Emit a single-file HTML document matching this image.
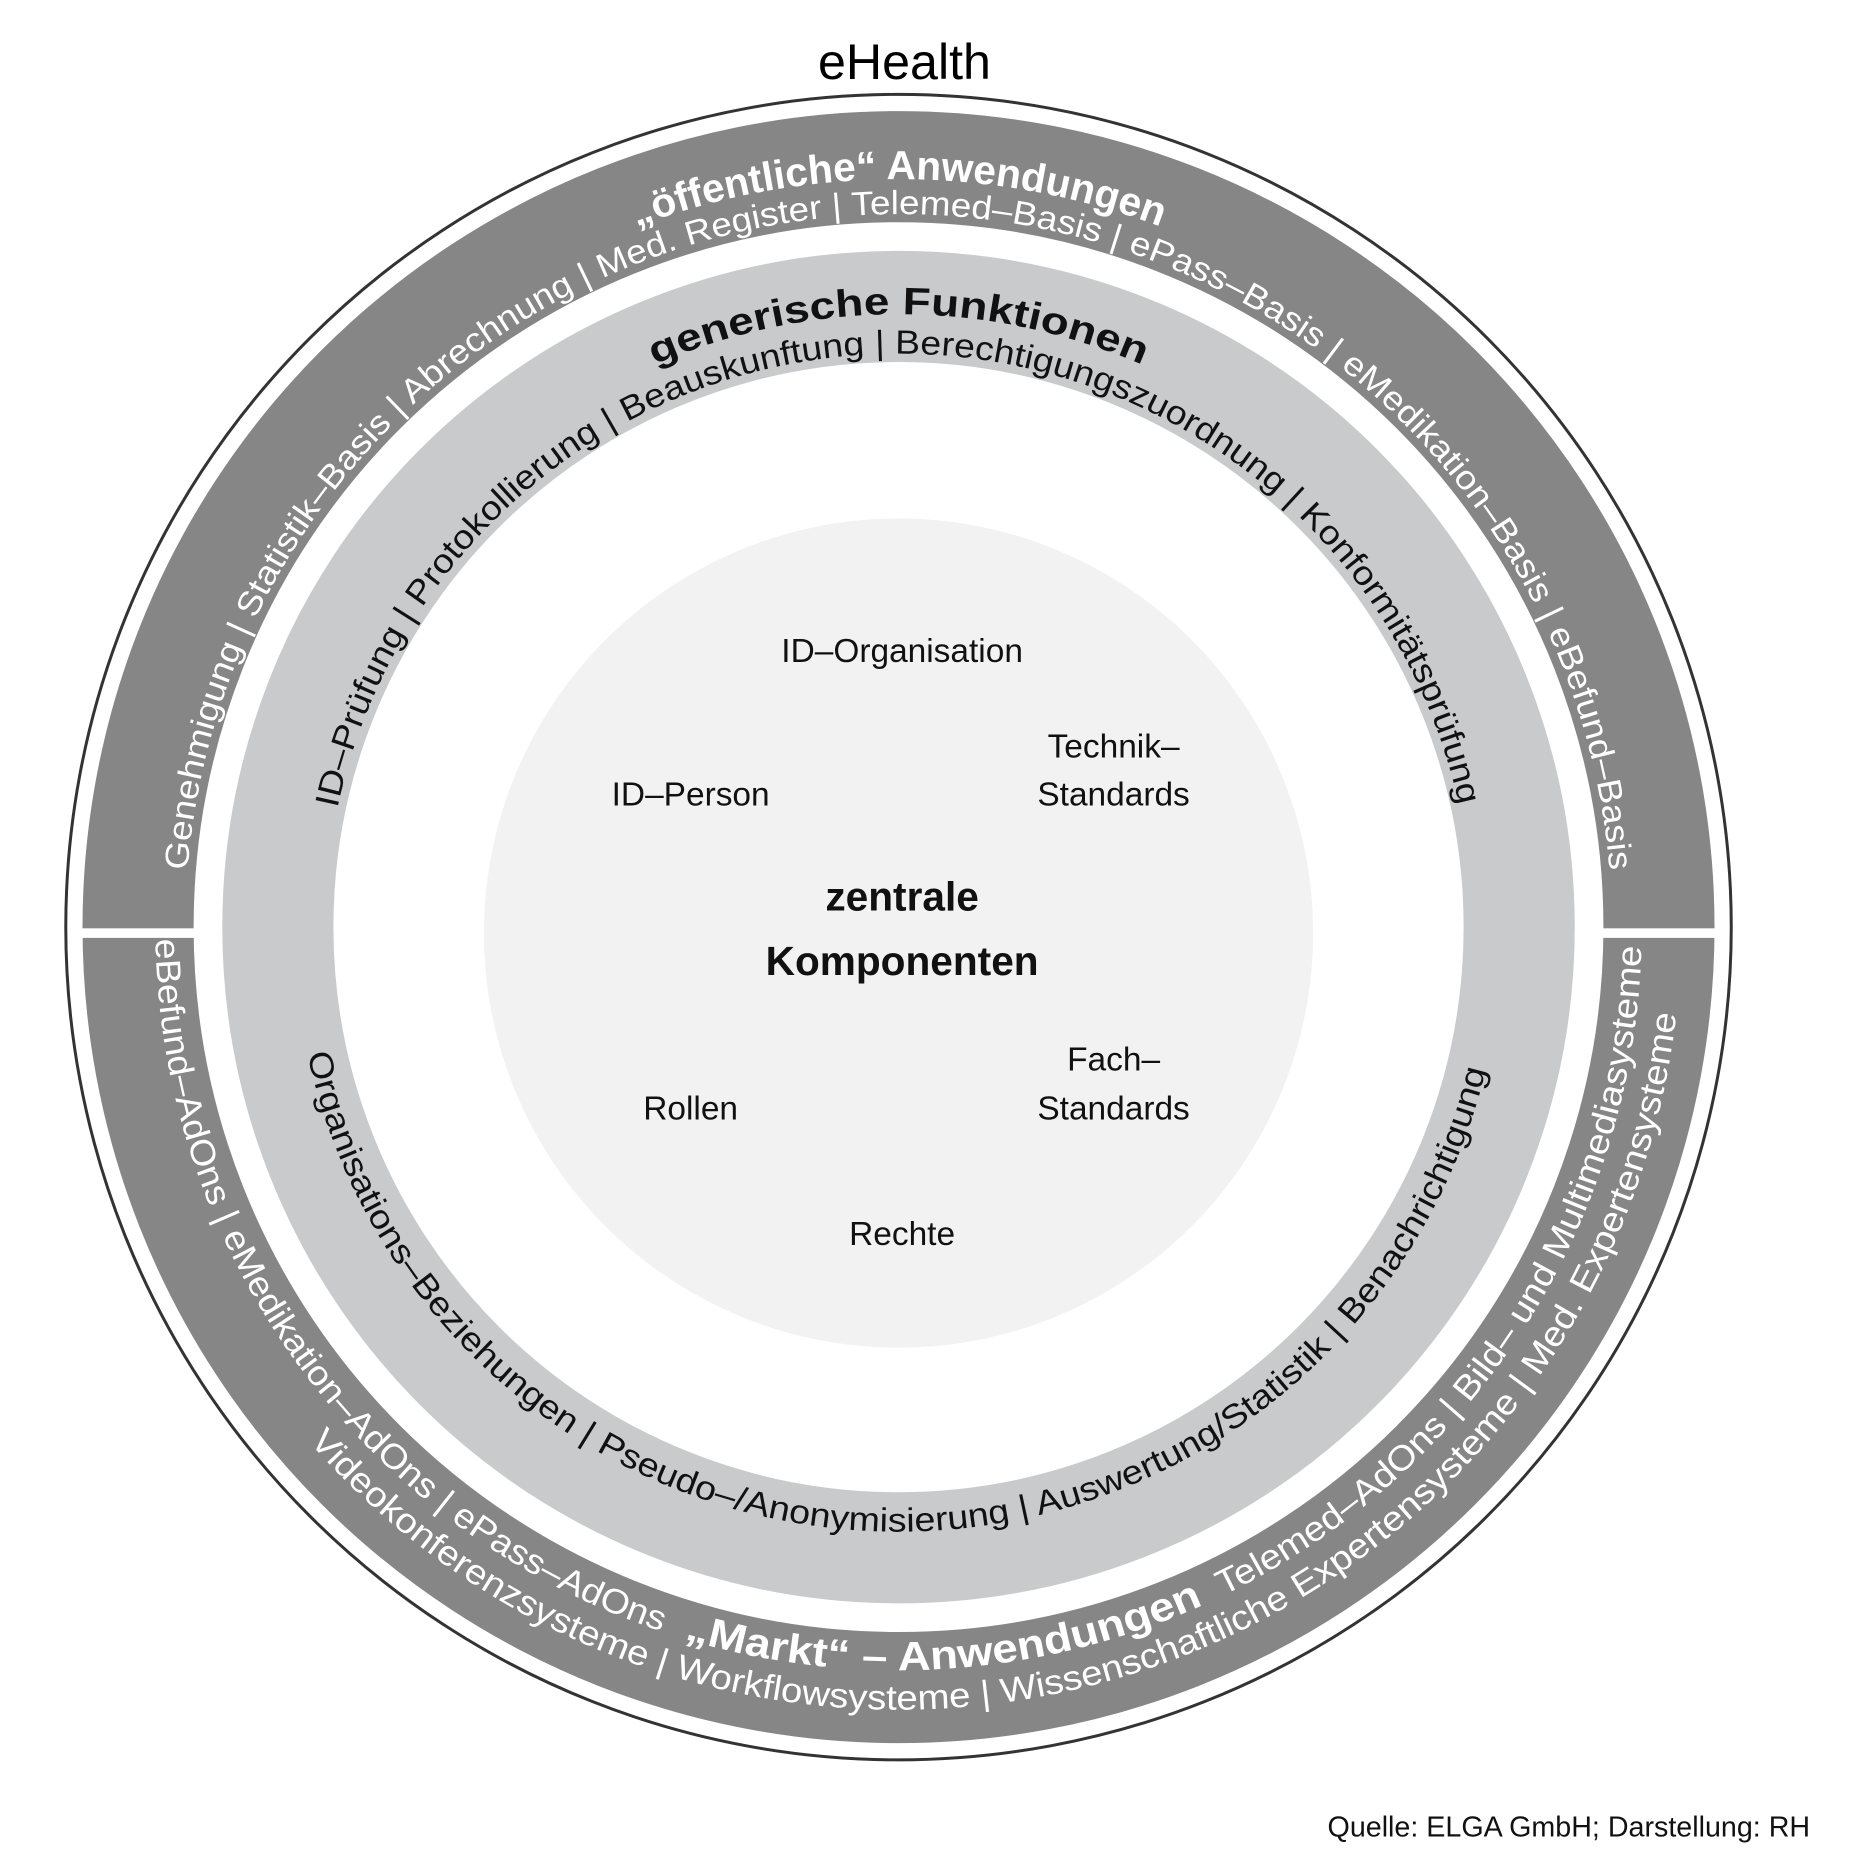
<!DOCTYPE html>
<html><head><meta charset="utf-8"><style>
html,body{margin:0;padding:0;background:#fff}
svg{display:block}
text{font-family:"Liberation Sans",sans-serif}
</style></head><body>
<svg width="1852" height="1865" viewBox="0 0 1550 1561" xmlns="http://www.w3.org/2000/svg">
<defs>
<path id="tA" d="M 131 788 A 626 626 0 0 1 1383 788"/>
<path id="tB" d="M 160 788 A 597 597 0 0 1 1354 788"/>
<path id="tC" d="M 244 788 A 513 513 0 0 1 1270 788"/>
<path id="tD" d="M 277 788 A 480 480 0 0 1 1237 788"/>
<path id="bA" d="M 135 788 A 622 622 0 0 0 1379 788"/>
<path id="bB" d="M 102 788 A 655 655 0 0 0 1412 788"/>
<path id="bC" d="M 251 788 A 506 506 0 0 0 1263 788"/>
</defs>
<text x="757" y="66" font-size="42" text-anchor="middle" fill="#000">eHealth</text>
<g transform="translate(-5,-12)">
<circle cx="757" cy="788" r="697" fill="none" stroke="#333" stroke-width="2.5"/>
<circle cx="757" cy="788" r="636.5" fill="none" stroke="#868686" stroke-width="93"/>
<circle cx="757" cy="788" r="519.5" fill="none" stroke="#c8cacc" stroke-width="93"/>
<circle cx="757" cy="793" r="347" fill="#f2f2f2"/>
</g>
<rect x="64" y="777" width="102" height="8" fill="#fff"/>
<rect x="1336" y="777" width="102" height="8" fill="#fff"/>

<g transform="translate(-5,-12)">
<g fill="#fff">
<text font-size="34" font-weight="bold"><textPath href="#tA" startOffset="50%" text-anchor="middle">„öffentliche“ Anwendungen</textPath></text>
<text font-size="28"><textPath href="#tB" startOffset="50%" text-anchor="middle" textLength="1780" lengthAdjust="spacingAndGlyphs">Genehmigung | Statistik–Basis | Abrechnung | Med. Register | Telemed–Basis | ePass–Basis | eMedikation–Basis | eBefund–Basis</textPath></text>

<text font-size="29"><textPath href="#bA" startOffset="10" textLength="765" lengthAdjust="spacingAndGlyphs">eBefund–AdOns | eMedikation–AdOns | ePass–AdOns</textPath></text>
<text font-size="34" font-weight="bold"><textPath href="#bA" startOffset="795" textLength="445" lengthAdjust="spacingAndGlyphs">„Markt“ – Anwendungen</textPath></text>
<text font-size="29"><textPath href="#bA" startOffset="1258" textLength="680" lengthAdjust="spacingAndGlyphs">Telemed–AdOns | Bild– und Multimediasysteme</textPath></text>
<text font-size="29"><textPath href="#bB" startOffset="470" textLength="1515" lengthAdjust="spacingAndGlyphs">Videokonferenzsysteme | Workflowsysteme | Wissenschaftliche Expertensysteme | Med. Expertensysteme</textPath></text>
</g>

<g fill="#111">
<text font-size="32" font-weight="bold"><textPath href="#tC" startOffset="50%" text-anchor="middle" textLength="420" lengthAdjust="spacingAndGlyphs">generische Funktionen</textPath></text>
<text font-size="28"><textPath href="#tD" startOffset="100" textLength="1305" lengthAdjust="spacingAndGlyphs">ID–Prüfung | Protokollierung | Beauskunftung | Berechtigungszuordnung | Konformitätsprüfung</textPath></text>
<text font-size="28"><textPath href="#bC" startOffset="107" textLength="1362" lengthAdjust="spacingAndGlyphs">Organisations–Beziehungen | Pseudo–/Anonymisierung | Auswertung/Statistik | Benachrichtigung</textPath></text>
</g>
</g>

<g font-size="28" text-anchor="middle" fill="#111">
<text x="755" y="554">ID–Organisation</text>
<text x="932" y="634">Technik–</text>
<text x="932" y="674">Standards</text>
<text x="578" y="674">ID–Person</text>
<text x="755" y="762" font-size="34" font-weight="bold">zentrale</text>
<text x="755" y="816" font-size="34" font-weight="bold">Komponenten</text>
<text x="932" y="896">Fach–</text>
<text x="932" y="937">Standards</text>
<text x="578" y="937">Rollen</text>
<text x="755" y="1042">Rechte</text>
</g>
<text x="1515" y="1537" font-size="24" text-anchor="end" fill="#111">Quelle: ELGA GmbH; Darstellung: RH</text>
</svg>
</body></html>
